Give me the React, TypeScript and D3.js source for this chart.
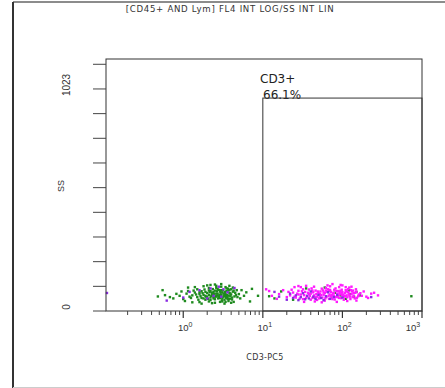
// flow cytometry dot plot: CD3-PC5 (log) vs SS (lin)
import React from 'react';
import * as d3 from 'd3';

// [CD3-PC5 intensity, SS channel]
const greenPts: [number, number][] = [
  [1.3,72],[1.4,85],[1.5,64],[1.6,78],[1.7,91],[1.8,58],[1.9,70],[2.0,83],[2.1,95],[2.2,62],
  [2.3,75],[2.4,88],[2.5,54],[2.6,68],[2.7,80],[2.8,97],[2.9,60],[3.0,73],[3.1,86],[3.2,66],
  [3.3,52],[3.4,79],[3.5,92],[3.6,63],[3.7,71],[3.8,84],[3.9,57],[4.0,76],[4.2,89],[4.4,67],
  [1.25,60],[1.35,94],[1.45,76],[1.55,52],[1.65,68],[1.75,82],[1.85,99],[1.95,64],[2.05,56],[2.15,87],
  [2.25,70],[2.35,101],[2.45,79],[2.55,66],[2.65,91],[2.75,58],[2.85,74],[2.95,84],[3.05,49],[3.15,96],
  [3.25,69],[3.35,88],[3.45,61],[3.55,74],[3.65,103],[3.75,55],[3.9,81],[4.1,62],[4.3,94],[4.6,73],
  [1.1,80],[1.2,66],[1.5,100],[1.7,60],[1.9,88],[2.1,74],[2.2,50],[2.4,66],[2.6,107],[2.7,71],
  [2.9,90],[3.1,58],[3.3,77],[3.5,69],[3.7,95],[3.9,70],[4.1,53],[4.5,84],[4.8,64],[5.0,78],
  [1.4,110],[1.8,114],[2.2,120],[2.6,116],[3.0,124],[3.4,110],[3.8,116],[4.2,108],[1.3,40],[1.7,34],
  [2.1,44],[2.5,38],[2.9,42],[3.3,34],[3.7,46],[4.3,42],[1.6,86],[1.8,74],[2.0,66],[2.2,92],
  [2.4,58],[2.6,80],[2.8,66],[3.0,96],[3.2,80],[3.4,70],[3.6,56],[3.8,98],[2.3,84],[2.7,102],
  [3.1,44],[1.9,52],[2.5,94],[2.1,106],[3.5,104],[4.0,100],[4.7,96],[5.2,58],[1.15,92],[0.55,96],
  [0.48,67],[0.59,73],[0.68,64],[0.75,58],[0.82,79],[0.9,70],[0.95,90],[1.0,55],[1.05,46],[1.15,108],
  [2.0,118],[2.5,122],[3.0,112],[3.4,42],[4.0,38],[5.4,96],[5.8,70],[6.2,86],[6.9,44],[7.3,102],
  [8.7,70],[2.3,36],[1.6,41],
  [12,68],[14,58],[17,90],[24,52],[35,104],[45,62],[80,84],[95,72],[120,95],[125,78],
  [140,66],[150,88],[165,72],[735,68],[110,56],[60,108],
];

const magentaPts: [number, number][] = [
  [22,72],[24,85],[26,62],[28,93],[30,76],[32,55],[34,88],[36,67],[38,99],[40,80],
  [42,60],[44,72],[46,94],[48,51],[50,84],[52,66],[55,103],[58,75],[61,58],[64,89],
  [67,70],[70,97],[73,62],[76,81],[80,53],[84,92],[88,68],[92,78],[96,59],[100,87],
  [105,71],[110,96],[115,63],[120,80],[126,55],[132,90],[138,70],[145,84],[152,61],[160,76],
  [23,98],[25,66],[27,80],[29,57],[31,91],[33,73],[35,60],[37,84],[39,70],[41,104],
  [43,86],[45,64],[47,78],[49,90],[51,58],[54,74],[57,95],[60,82],[63,64],[66,100],
  [69,76],[72,88],[75,55],[78,71],[82,104],[86,80],[90,60],[94,93],[98,74],[103,64],
  [108,84],[113,72],[118,101],[124,66],[130,78],[136,94],[143,58],[150,88],[158,68],[168,82],
  [25,110],[35,116],[45,44],[55,40],[70,114],[85,42],[95,120],[115,46],[130,112],[150,48],
  [33,42],[60,48],[75,124],[110,110],[28,76],[38,78],[48,66],[58,86],[68,92],[78,84],
  [88,92],[98,98],[108,68],[118,88],[128,96],[138,82],[52,78],[62,94],[72,70],[82,64],
  [92,86],[42,94],[32,100],[102,76],[122,72],
  [20,64],[21,88],[30,110],[40,52],[44,112],[53,90],[56,62],[62,106],[68,56],[74,74],
  [79,98],[85,66],[91,110],[97,84],[104,52],[112,90],[122,108],[134,64],[148,100],[175,70],
  [185,90],[200,66],[16,78],[18,96],[13,70],[15,56],[28,115],[65,118],[100,118],[230,80],
  [12,92],[11,100],[210,60],[250,84],[280,72],
];

const purplePts: [number, number][] = [
  [1.2,88],[1.6,96],[2.2,104],[2.4,70],[2.8,112],[3.2,100],[3.6,86],[4.4,106],[1.0,62],[0.62,48],
  [3.0,66],[2.0,58],[0.11,83],[230,64],
  [24,60],[26,72],[28,50],[30,64],[32,82],[34,54],[36,70],[38,58],[40,90],[43,66],
  [46,56],[50,74],[54,60],[58,50],[62,68],[66,86],[70,56],[78,64],[86,74],[100,62],
  [20,52],[22,80],[16,66],[14,88],
];

const xMajor = [1, 10, 100, 1000];
const yTicks = d3.range(0, 11).map((i) => (i * 1023) / 9);
const yLabels = [0, 1023];
const gate = { x0: 10, y0: 981, name: 'CD3+', pct: '66.1%' };

const width = 445;
const height = 388;
const left = 106, right = 422, top = 59, bottom = 311;

const App: React.FC = () => {
  const x = d3.scaleLog().domain([0.107, 1000]).range([left, right]);
  const y = d3.scaleLinear().domain([0, 1161]).range([bottom, top]);

  // minor ticks 2..9 per decade
  const minor: number[] = [];
  [0.1, 1, 10, 100].forEach((d) => {
    for (let k = 2; k <= 9; k++) {
      const v = d * k;
      if (v > 0.107) minor.push(v);
    }
  });

  const dot = (p: [number, number], c: string, i: number) => (
    <rect key={i} x={x(p[0]) - 1.2} y={y(p[1]) - 1.2} width={2.4} height={2.4} fill={c} />
  );

  const font = 'Liberation Sans, Arial, sans-serif';
  const wide = 'DejaVu Sans, sans-serif';

  return (
    <svg width={width} height={height} style={{ position: 'absolute', left: 0, top: 0 }}>
      <rect width={width} height={height} fill="#fff" />
      {/* outer frame */}
      <line x1={13} x2={445} y1={2} y2={2} stroke="#666" strokeWidth={1.5} />
      <line x1={13} x2={13} y1={2} y2={388} stroke="#333" strokeWidth={2} />
      <line x1={13} x2={445} y1={387.5} y2={387.5} stroke="#ccc" strokeWidth={1} />

      <text x={230} y={12} fontSize={8.6} fontFamily={wide} fill="#333" textAnchor="middle" letterSpacing={0.7}>
        [CD45+ AND Lym] FL4 INT LOG/SS INT LIN
      </text>

      {/* points */}
      <g>{greenPts.map((p, i) => dot(p, '#1e8a1e', i))}</g>
      <g>{magentaPts.map((p, i) => dot(p, '#ff1aff', i))}</g>
      <g>{purplePts.map((p, i) => dot(p, '#8a2be2', i))}</g>

      {/* plot frame */}
      <rect x={left} y={top} width={right - left} height={bottom - top} fill="none" stroke="#333" strokeWidth={1} />

      {/* y axis */}
      {yTicks.map((t, i) => (
        <line key={i} x1={left - 13} x2={left} y1={y(t)} y2={y(t)} stroke="#444" strokeWidth={1} />
      ))}
      {yLabels.map((t) => (
        <text key={t} transform={`translate(70,${y(t) - 4}) rotate(-90)`} fontSize={10} fontFamily={font}
          fill="#333" textAnchor="middle">{t}</text>
      ))}
      <text transform={`translate(64,186) rotate(-90)`} fontSize={9} fontFamily={font} fill="#333" textAnchor="middle">SS</text>

      {/* x axis */}
      {minor.map((t, i) => (
        <line key={i} x1={x(t)} x2={x(t)} y1={bottom} y2={bottom + 4} stroke="#444" strokeWidth={1} />
      ))}
      {xMajor.map((t, i) => (
        <g key={t}>
          <line x1={x(t)} x2={x(t)} y1={bottom} y2={bottom + 7} stroke="#333" strokeWidth={1.2} />
          <text x={i === xMajor.length - 1 ? x(t) - 9 : x(t) + 2} y={331} fontSize={9.5} fontFamily={font}
            fill="#333" textAnchor="middle">
            10<tspan dy={-4} fontSize={7}>{Math.round(Math.log10(t))}</tspan>
          </text>
        </g>
      ))}
      <text x={265} y={360} fontSize={8} fontFamily={wide} fill="#333" textAnchor="middle" letterSpacing={0.3}>CD3-PC5</text>

      {/* gate */}
      <text x={260} y={83} fontSize={12} fontFamily={wide} fill="#222">{gate.name}</text>
      <text x={263} y={99} fontSize={12} fontFamily={wide} fill="#222">{gate.pct}</text>
      <rect x={x(gate.x0)} y={y(gate.y0)} width={right - x(gate.x0)} height={bottom - y(gate.y0)}
        fill="none" stroke="#333" strokeWidth={1} />
    </svg>
  );
};

export default App;
